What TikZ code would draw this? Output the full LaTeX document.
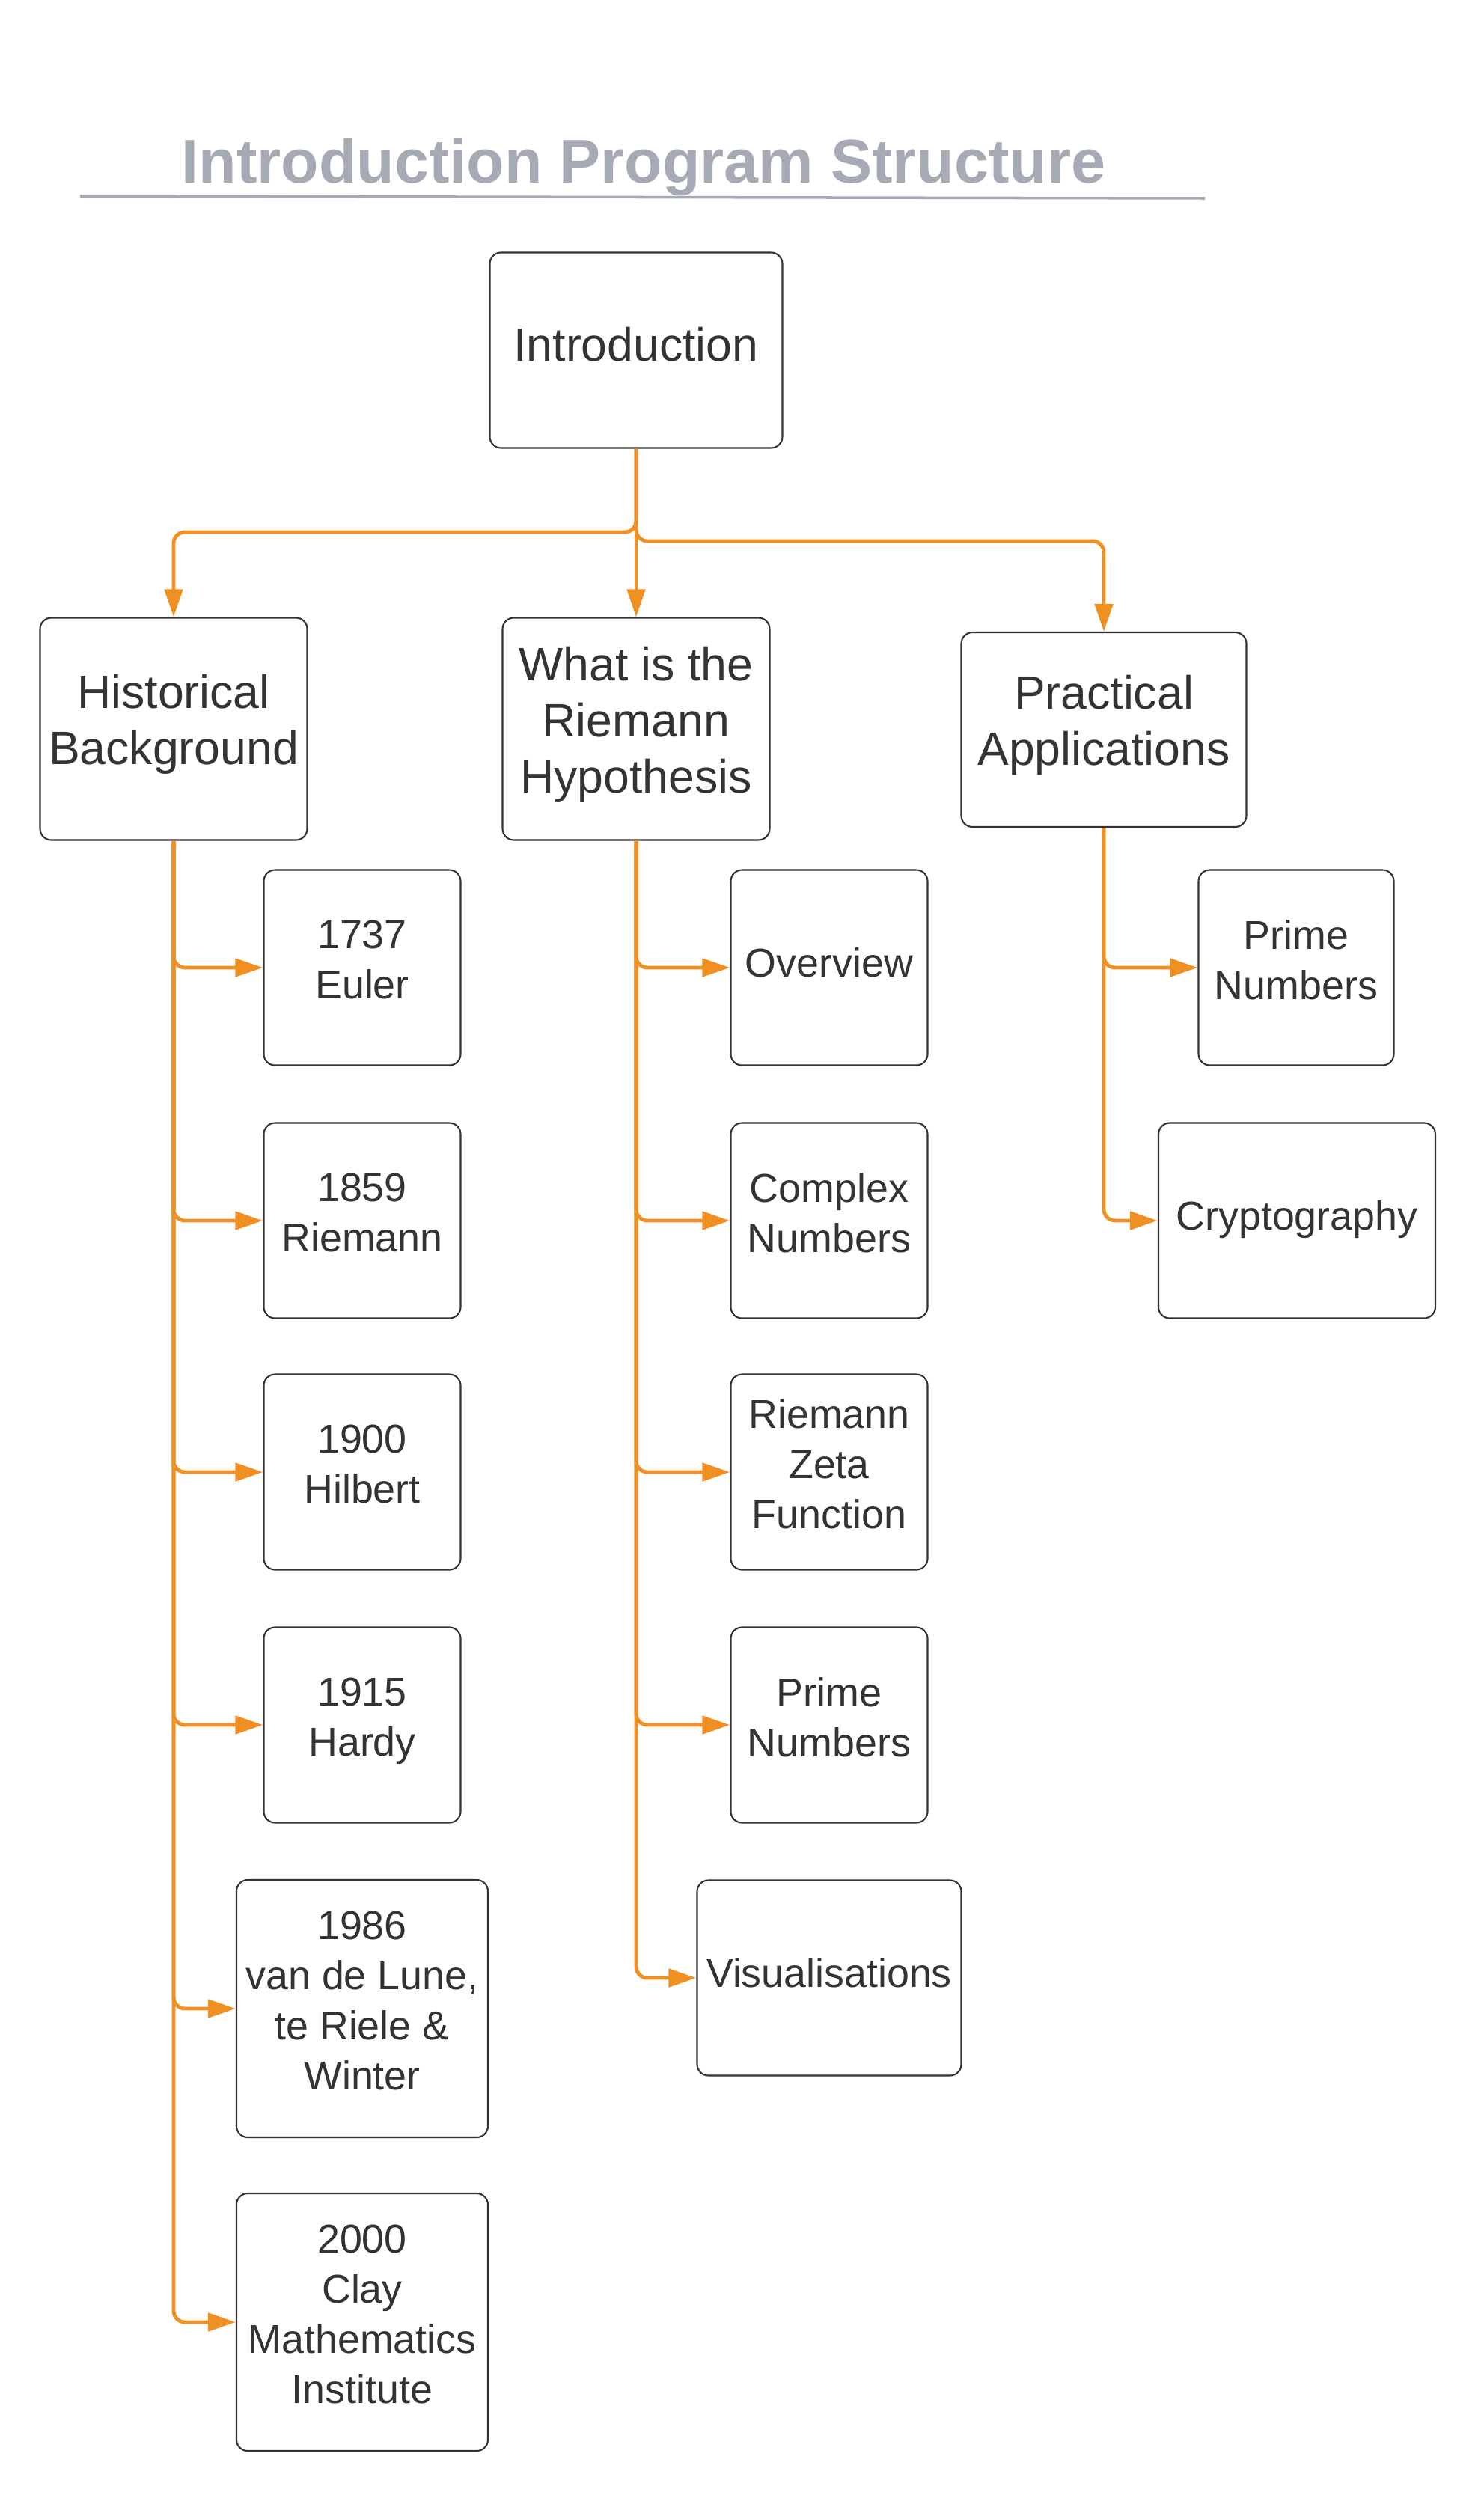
\documentclass[tikz,border=0pt]{standalone}
\usepackage{fontspec}
\setmainfont{Liberation Sans}
\usepackage{xcolor}
\usetikzlibrary{arrows.meta, calc}

\definecolor{linkorange}{RGB}{240,143,34}
\definecolor{titlegray}{RGB}{165,170,180}
\definecolor{textgray}{RGB}{51,51,51}
\newcommand{\boxstrut}{\rule[-0.4em]{0pt}{1.25em}}

\begin{document}
\begin{tikzpicture}[>=latex]
	\tikzstyle{main} = [draw=textgray, line width=0.6pt, rounded corners=0.15cm, text=textgray, align=center, inner sep=1pt, font=\fontsize{17.8}{21.3}\selectfont, execute at begin node=\boxstrut, execute at end node=\boxstrut]
	\tikzstyle{sub} = [main, font=\fontsize{15.3}{19}\selectfont, minimum width=2.63cm, minimum height=2.61cm]
	\tikzstyle{link} = [draw=linkorange, line width=1.4pt, rounded corners=0.15cm, -{Triangle[length=0.37cm, width=0.24cm]}]
	\tikzstyle{heading} = [text=titlegray, font=\fontsize{23.5}{28}\selectfont\bfseries, inner sep=0pt]

	\useasboundingbox (0,0) rectangle (19.82,-33.54);

	\node[heading, anchor=base] at (8.60,-2.44) (title) {Introduction Program Structure};
	\draw[titlegray, line width=1pt] (1.07,-2.62) -- (16.10,-2.65);

	\node[main, minimum width=3.91cm, minimum height=2.61cm] at (8.50,-4.68) (intro) {Introduction};
	\node[main, minimum width=3.57cm, minimum height=2.97cm] at (2.32,-9.74) (hist) {Historical\\Background};
	\node[main, minimum width=3.57cm, minimum height=2.97cm] at (8.50,-9.74) (what) {What is the\\Riemann\\Hypothesis};
	\node[main, minimum width=3.81cm, minimum height=2.60cm] at (14.75,-9.75) (prac) {Practical\\Applications};

	\node[sub] at (4.84,-12.93) (euler) {1737\\Euler};
	\node[sub] at (4.84,-16.31) (riemann) {1859\\Riemann};
	\node[sub] at (4.84,-19.67) (hilbert) {1900\\Hilbert};
	\node[sub] at (4.84,-23.05) (hardy) {1915\\Hardy};
	\node[sub, minimum width=3.36cm, minimum height=3.44cm] at (4.84,-26.84) (lune) {1986\\van de Lune,\\te Riele \&\\Winter};
	\node[sub, minimum width=3.36cm, minimum height=3.44cm] at (4.84,-31.03) (clay) {2000\\Clay\\Mathematics\\Institute};

	\node[sub] at (11.08,-12.93) (overview) {Overview};
	\node[sub] at (11.08,-16.31) (complex) {Complex\\Numbers};
	\node[sub] at (11.08,-19.67) (zeta) {Riemann\\Zeta\\Function};
	\node[sub] at (11.08,-23.05) (primes) {Prime\\Numbers};
	\node[sub, minimum width=3.53cm] at (11.08,-26.43) (visual) {Visualisations};

	\node[sub, minimum width=2.61cm] at (17.32,-12.93) (appprime) {Prime\\Numbers};
	\node[sub, minimum width=3.70cm] at (17.33,-16.31) (crypto) {Cryptography};

	\coordinate (splitl) at (8.50,-7.11);
	\coordinate (splitr) at (8.50,-7.23);

	\draw[link] (intro.south) -- (splitl) -| (hist.north);
	\draw[link] (intro.south) -- (what.north);
	\draw[link] (intro.south) -- (splitr) -| (prac.north);

	\draw[link] (hist.south) |- (euler.west);
	\draw[link] (hist.south) |- (riemann.west);
	\draw[link] (hist.south) |- (hilbert.west);
	\draw[link] (hist.south) |- (hardy.west);
	\draw[link] (hist.south) |- (lune.west);
	\draw[link] (hist.south) |- (clay.west);

	\draw[link] (what.south) |- (overview.west);
	\draw[link] (what.south) |- (complex.west);
	\draw[link] (what.south) |- (zeta.west);
	\draw[link] (what.south) |- (primes.west);
	\draw[link] (what.south) |- (visual.west);

	\draw[link] (prac.south) |- (appprime.west);
	\draw[link] (prac.south) |- (crypto.west);
\end{tikzpicture}
\end{document}
